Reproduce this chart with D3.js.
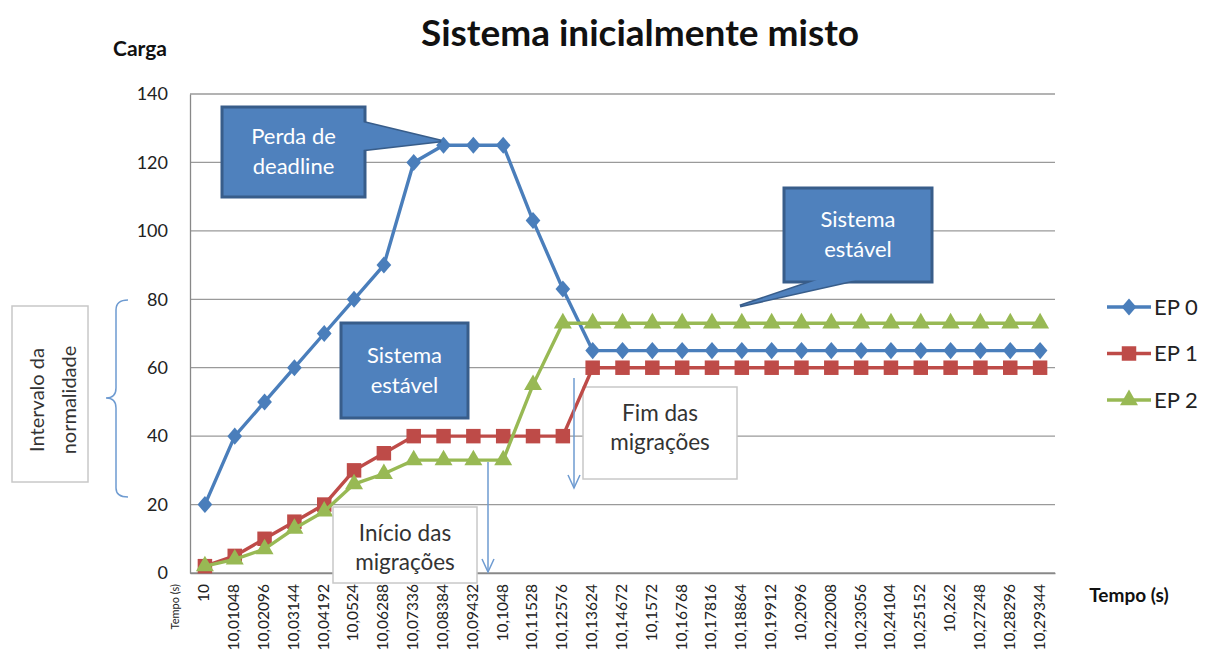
<!DOCTYPE html>
<html>
<head>
<meta charset="utf-8">
<script src="https://cdn.jsdelivr.net/npm/d3@7"></script>
<style>
  body { margin: 0; background: #fff; }
  svg { font-family: Lato, "Open Sans", sans-serif; }
</style>
</head>
<body>
<svg width="1209" height="658"></svg>
<script>
// tick labels along the time axis
const tempos = ["10", "10,01048", "10,02096", "10,03144", "10,04192", "10,0524", "10,06288",
  "10,07336", "10,08384", "10,09432", "10,1048", "10,11528", "10,12576", "10,13624",
  "10,14672", "10,1572", "10,16768", "10,17816", "10,18864", "10,19912", "10,2096",
  "10,22008", "10,23056", "10,24104", "10,25152", "10,262", "10,27248", "10,28296", "10,29344"];

const ep0 = [20, 40, 50, 60, 70, 80, 90, 120, 125, 125, 125, 103, 83, 65, 65, 65, 65, 65, 65,
  65, 65, 65, 65, 65, 65, 65, 65, 65, 65];
const ep1 = [2, 5, 10, 15, 20, 30, 35, 40, 40, 40, 40, 40, 40, 60, 60, 60, 60, 60, 60,
  60, 60, 60, 60, 60, 60, 60, 60, 60, 60];
const ep2 = [2, 4, 7, 13, 18, 26, 29, 33, 33, 33, 33, 55, 73, 73, 73, 73, 73, 73, 73,
  73, 73, 73, 73, 73, 73, 73, 73, 73, 73];

const yTicks = [0, 20, 40, 60, 80, 100, 120, 140];

// Excel-style diamond: a bit wider than d3's default one
const wideDiamond = {
  draw(ctx, size) {
    const r = Math.sqrt(size / 2);
    ctx.moveTo(0, -r * 1.1);
    ctx.lineTo(r * 0.95, 0);
    ctx.lineTo(0, r * 1.1);
    ctx.lineTo(-r * 0.95, 0);
    ctx.closePath();
  }
};

const series = [
  { name: "EP 0", values: ep0, color: "#4A7EBB", symbol: wideDiamond, size: 120 },
  { name: "EP 1", values: ep1, color: "#BE4B48", symbol: d3.symbolSquare, size: 210 },
  { name: "EP 2", values: ep2, color: "#98B954", symbol: d3.symbolTriangle, size: 140 }
];

const svg = d3.select("svg");
const plotLeft = 190, plotRight = 1055, plotTop = 94, plotBottom = 573;

const x = d3.scaleBand().domain(tempos).range([plotLeft, plotRight]);
const y = d3.scaleLinear().domain([0, 140]).range([plotBottom, plotTop]);
const cx = (d) => x(d) + x.bandwidth() / 2;

// gridlines
svg.append("g")
  .selectAll("line")
  .data(yTicks)
  .join("line")
  .attr("x1", plotLeft).attr("x2", plotRight)
  .attr("y1", (d) => y(d)).attr("y2", (d) => y(d))
  .attr("stroke", "#9a9a9a").attr("stroke-width", 1.3);

// y axis
const yAxis = svg.append("g")
  .attr("transform", `translate(${plotLeft},0)`)
  .call(d3.axisLeft(y).tickValues(yTicks).tickSize(0).tickPadding(22));
yAxis.select(".domain").attr("stroke", "#888").attr("stroke-width", 1.3);
yAxis.selectAll("text").attr("font-size", 18).attr("fill", "#222")
  .attr("font-family", "Lato, sans-serif");

// x axis
const xAxis = svg.append("g")
  .attr("transform", `translate(0,${plotBottom})`)
  .call(d3.axisBottom(x).tickSize(0).tickPadding(8));
xAxis.select(".domain").attr("stroke", "#888").attr("stroke-width", 1.3);
xAxis.selectAll("text")
  .attr("font-size", 15.5).attr("fill", "#222")
  .attr("font-family", "Lato, sans-serif")
  .attr("transform", "rotate(-90)")
  .attr("text-anchor", "end")
  .attr("x", -11).attr("y", -1).attr("dy", "0.35em");

// stray label to the left of the first tick
svg.append("text")
  .attr("transform", `translate(175,${plotBottom + 11}) rotate(-90)`)
  .attr("text-anchor", "end").attr("dy", "0.35em")
  .attr("font-size", 11).attr("fill", "#222")
  .text("Tempo (s)");

// annotation arrows
function arrow(xv, y1, y2) {
  const g = svg.append("g").attr("stroke", "#6E9BD1").attr("stroke-width", 1.5).attr("fill", "none");
  g.append("line").attr("x1", xv).attr("x2", xv).attr("y1", y1).attr("y2", y2);
  g.append("path").attr("d", `M${xv - 6},${y2 - 13} L${xv},${y2} L${xv + 6},${y2 - 13}`);
}

// white boxes
function whiteBox(x0, y0, w, h, lines) {
  svg.append("rect").attr("x", x0).attr("y", y0).attr("width", w).attr("height", h)
    .attr("fill", "#fff").attr("stroke", "#c8c8c8").attr("stroke-width", 1.5);
  const t = svg.append("text").attr("x", x0 + w / 2).attr("text-anchor", "middle")
    .attr("font-size", 22.5).attr("fill", "#333");
  lines.forEach((l, i) => t.append("tspan").attr("x", x0 + w / 2).attr("y", y0 + 34 + i * 29).text(l));
}

whiteBox(583, 387, 154, 92, ["Fim das", "migrações"]);

// lines and markers
series.forEach((s) => {
  const line = d3.line().x((d, i) => cx(tempos[i])).y((d) => y(d));
  svg.append("path").datum(s.values)
    .attr("d", line).attr("fill", "none")
    .attr("stroke", s.color).attr("stroke-width", 3.4);
  svg.append("g").selectAll("path")
    .data(s.values)
    .join("path")
    .attr("transform", (d, i) => `translate(${cx(tempos[i])},${y(d)})`)
    .attr("d", d3.symbol(s.symbol, s.size))
    .attr("fill", s.color);
});

arrow(574, 378, 488);
arrow(488, 462, 572);
whiteBox(333, 507, 144, 76, ["Início das", "migrações"]);

// blue callouts
function callout(x0, y0, w, h, lines, tail) {
  const g = svg.append("g");
  if (tail) {
    g.append("path").attr("d", tail).attr("fill", "#4F81BD")
      .attr("stroke", "#385D8A").attr("stroke-width", 3).attr("stroke-linejoin", "miter");
  }
  g.append("rect").attr("x", x0).attr("y", y0).attr("width", w).attr("height", h)
    .attr("fill", "#4F81BD").attr("stroke", "#385D8A").attr("stroke-width", 3);
  if (tail) {
    g.append("path").attr("d", tail).attr("fill", "#4F81BD").attr("stroke", "none");
  }
  const t = g.append("text").attr("text-anchor", "middle")
    .attr("font-size", 22).attr("fill", "#fff");
  lines.forEach((l, i) => t.append("tspan").attr("x", x0 + w / 2)
    .attr("y", y0 + h / 2 + (i - (lines.length - 1) / 2) * 30 + 7).text(l));
}

callout(222, 107, 143, 90, ["Perda de", "deadline"], "M362,122 L441,141 L362,150 Z");
callout(784, 188, 148, 94, ["Sistema", "estável"], "M820,279 L740,306 L860,279 Z");
callout(341, 323, 127, 95, ["Sistema", "estável"], null);

// titles
svg.append("text").attr("x", 640).attr("y", 46).attr("text-anchor", "middle")
  .attr("font-size", 37).attr("font-weight", "bold").attr("fill", "#111")
  .text("Sistema inicialmente misto");
svg.append("text").attr("x", 140).attr("y", 56).attr("text-anchor", "middle")
  .attr("font-size", 21).attr("font-weight", "bold").attr("fill", "#111").text("Carga");
svg.append("text").attr("x", 1129).attr("y", 602).attr("text-anchor", "middle")
  .attr("font-size", 19).attr("font-weight", "bold").attr("fill", "#111").text("Tempo (s)");

// normal interval box and brace
svg.append("rect").attr("x", 12).attr("y", 306).attr("width", 76).attr("height", 176)
  .attr("fill", "#fff").attr("stroke", "#c8c8c8").attr("stroke-width", 1.5);
const nt = svg.append("text").attr("transform", "translate(50,400) rotate(-90)")
  .attr("text-anchor", "middle").attr("font-size", 20).attr("fill", "#333");
nt.append("tspan").attr("x", 0).attr("y", -6).text("Intervalo da");
nt.append("tspan").attr("x", 0).attr("y", 26).text("normalidade");

svg.append("path")
  .attr("d", "M128,300 Q116,300 116,310 L116,388 Q116,398 106,398 Q116,398 116,408 L116,488 Q116,497 128,497")
  .attr("fill", "none").attr("stroke", "#6E9BD1").attr("stroke-width", 1.5);

// legend
const legend = svg.append("g")
  .selectAll("g")
  .data(series)
  .join("g")
  .attr("transform", (d, i) => `translate(1107,${307 + i * 46.5})`);
legend.append("line").attr("x1", 0).attr("x2", 44)
  .attr("stroke", (d) => d.color).attr("stroke-width", 3.4);
legend.append("path").attr("transform", "translate(22,0)")
  .attr("d", (d) => d3.symbol(d.symbol, d.size)())
  .attr("fill", (d) => d.color);
legend.append("text").attr("x", 47).attr("dy", "0.35em")
  .attr("font-size", 22).attr("fill", "#222").text((d) => d.name);
</script>
</body>
</html>
